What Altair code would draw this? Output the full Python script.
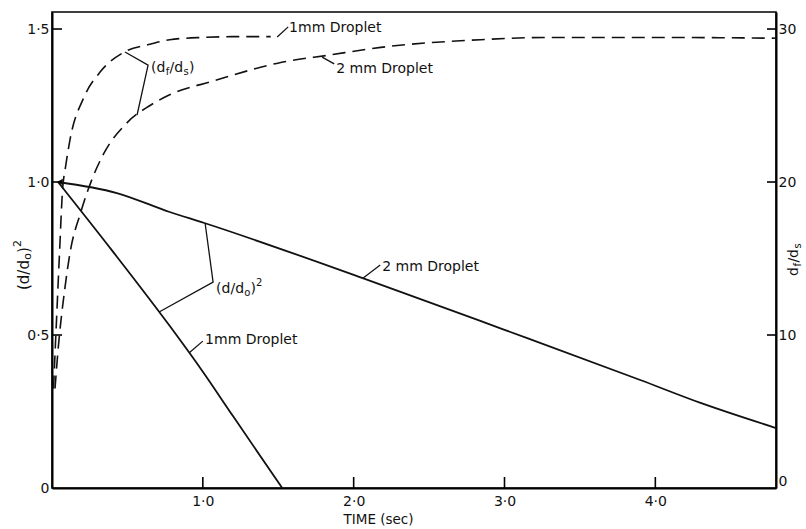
import altair as alt
import pandas as pd

# ---------------- data ----------------
T_MAX = 4.8
V_MAX = 1.5556          # left axis (d/d0)^2
R_MAX = V_MAX * 20      # right axis df/ds

# (d/d0)^2, solid lines
t_sq_1mm = [0.04, 0.40, 0.78, 1.00, 1.20, 1.526]
sq_1mm = [1.0, 0.775, 0.53, 0.38, 0.235, 0.0]
t_sq_2mm = [0.04, 0.43, 0.78, 1.01, 2.06, 3.0, 3.9, 4.3, 4.8]
sq_2mm = [1.0, 0.964, 0.902, 0.866, 0.686, 0.517, 0.353, 0.278, 0.196]

# df/ds, dashed lines
t_ratio_1mm = [0.01, 0.03, 0.05, 0.07, 0.09, 0.12, 0.21, 0.32, 0.48, 0.65, 0.78, 1.0, 1.2, 1.45]
ratio_1mm = [6.5, 11.0, 15.4, 19.5, 21.0, 22.8, 25.5, 27.2, 28.5, 29.0, 29.3, 29.45, 29.5, 29.5]
t_ratio_2mm = [0.02, 0.04, 0.086, 0.12, 0.19, 0.27, 0.34, 0.5, 0.65, 0.78, 1.07, 1.51, 1.84, 2.18, 2.84, 3.3, 4.0, 4.8]
ratio_2mm = [6.5, 9.0, 13.1, 15.4, 18.0, 20.3, 21.8, 23.9, 25.0, 25.7, 26.6, 27.8, 28.3, 28.8, 29.3, 29.45, 29.45, 29.4]

x_tick_values = [1, 2, 3, 4]
left_tick_values = [0.5, 1.0, 1.5]
right_tick_values = [10, 20, 30]

# annotation labels (left-axis units)
label_text = ["1mm Droplet", "2 mm Droplet", "2 mm Droplet", "1mm Droplet"]
label_t = [1.572, 1.884, 2.189, 1.015]
label_v = [1.503, 1.369, 0.722, 0.484]

# leader lines (left-axis units)
leader_t = [[1.493, 1.566], [1.791, 1.871], [0.484, 0.637, 0.564],
            [1.015, 1.068, 0.710], [2.063, 2.176], [0.91, 1.0]]
leader_v = [[1.474, 1.507], [1.408, 1.386], [1.425, 1.382, 1.219],
            [0.866, 0.673, 0.575], [0.686, 0.729], [0.442, 0.480]]

# compound labels with sub/superscripts: (text, dx, dy, size)
df_label_anchor = (0.657, 1.373)
df_label_parts = [("(d", 0, 0, 14), ("f", 14.6, 4, 10), ("/d", 18.5, 0, 14),
                  ("s", 32.3, 4, 10), (")", 37.8, 0, 14)]
sq_label_anchor = (1.088, 0.650)
sq_label_parts = [("(d/d", 0, 0, 14), ("o", 28.2, 4, 10), (")", 34.4, 0, 14),
                  ("2", 39.8, -6, 10)]
# axis titles built from pieces (rotated)
left_title_parts = [("(d/d", 0, 0, 15), ("o", 30.2, 4, 11), (")", 37.0, 0, 15),
                    ("2", 43.0, -6, 11)]
right_title_parts = [("d", 0, 0, 14), ("f", 9.4, 4, 10), ("/d", 13.4, 0, 14),
                     ("s", 27.4, 4, 10)]

W, H = 724, 476
FONT = "DejaVu Sans"
INK = "#111111"

# ---------------- tables ----------------
sq_df = pd.DataFrame({
    "t": t_sq_1mm + t_sq_2mm,
    "v": sq_1mm + sq_2mm,
    "series": ["1mm"] * len(t_sq_1mm) + ["2mm"] * len(t_sq_2mm),
})
ratio_df = pd.DataFrame({
    "t": t_ratio_1mm + t_ratio_2mm,
    "r": ratio_1mm + ratio_2mm,
    "series": ["1mm"] * len(t_ratio_1mm) + ["2mm"] * len(t_ratio_2mm),
})
lead_rows = []
for i, (ts, vs) in enumerate(zip(leader_t, leader_v)):
    for j, (a, b) in enumerate(zip(ts, vs)):
        lead_rows.append({"t": a, "v": b, "g": i, "o": j})
lead_df = pd.DataFrame(lead_rows)
lab_df = pd.DataFrame({"t": label_t, "v": label_v, "text": label_text})
start_df = pd.DataFrame({"t": [t_sq_1mm[0] + 0.012], "v": [sq_1mm[0]]})

xscale = alt.Scale(domain=[0, T_MAX], nice=False, zero=False)
vscale = alt.Scale(domain=[0, V_MAX], nice=False, zero=False)
rscale = alt.Scale(domain=[0, R_MAX], nice=False, zero=False)

x_axis = alt.Axis(
    values=[0, 1, 2, 3, 4], ticks=False, tickSize=0, grid=False,
    labelExpr="datum.value == 0 ? '' : replace(format(datum.value, '.1f'), '.', '·')",
    labelFont=FONT, labelFontSize=14, labelColor=INK, labelPadding=6,
    domainColor="black", domainWidth=2,
    title="TIME (sec)", titleFont=FONT, titleFontSize=13.5, titleFontWeight="normal",
    titleColor=INK, titleX=326, titleY=31, titleBaseline="middle", titleAnchor="middle",
)
v_axis = alt.Axis(
    orient="left", values=[0, 0.5, 1.0, 1.5], ticks=False, tickSize=0, grid=False,
    labelExpr="datum.value == 0 ? '0' : replace(format(datum.value, '.1f'), '.', '·')",
    labelFont=FONT, labelFontSize=14, labelColor=INK, labelPadding=3,
    domainColor="black", domainWidth=2, title=None,
)
r_axis = alt.Axis(
    orient="right", values=[0, 10, 20, 30], ticks=False, tickSize=0, grid=False,
    format="d", labelFont=FONT, labelFontSize=14, labelColor=INK, labelPadding=2,
    labelBaseline={"condition": {"test": "datum.value === 0", "value": "bottom"}, "value": "middle"},
    domainColor="black", domainWidth=2, title=None,
)

# ---------------- left (d/d0)^2 layer ----------------
sq_lines = alt.Chart(sq_df).mark_line(color=INK, strokeWidth=1.8, interpolate="monotone").encode(
    x=alt.X("t:Q", scale=xscale, axis=x_axis),
    y=alt.Y("v:Q", scale=vscale, axis=v_axis),
    detail="series:N",
)
start_mark = alt.Chart(start_df).mark_point(
    shape="triangle-left", filled=True, color=INK, size=45, opacity=1
).encode(x=alt.X("t:Q", scale=xscale), y=alt.Y("v:Q", scale=vscale))

leaders = alt.Chart(lead_df).mark_line(color=INK, strokeWidth=1.3).encode(
    x=alt.X("t:Q", scale=xscale),
    y=alt.Y("v:Q", scale=vscale),
    detail="g:N",
    order="o:Q",
)
labels = alt.Chart(lab_df).mark_text(
    align="left", baseline="middle", font=FONT, fontSize=14, color=INK
).encode(x=alt.X("t:Q", scale=xscale), y=alt.Y("v:Q", scale=vscale), text="text:N")

part_layers = []
for anchor, parts in [(df_label_anchor, df_label_parts), (sq_label_anchor, sq_label_parts)]:
    for txt, dx, dy, sz in parts:
        part_layers.append(
            alt.Chart(pd.DataFrame({"t": [anchor[0]], "v": [anchor[1]], "text": [txt]})).mark_text(
                align="left", baseline="middle", font=FONT, fontSize=sz, color=INK, dx=dx, dy=dy
            ).encode(x=alt.X("t:Q", scale=xscale), y=alt.Y("v:Q", scale=vscale), text="text:N")
        )

x_ticks = alt.Chart(pd.DataFrame({"t": x_tick_values})).mark_rule(color="black", strokeWidth=1.6).encode(
    x=alt.X("t:Q", scale=xscale), y=alt.value(H), y2=alt.value(H - 11)
)
v_ticks = alt.Chart(pd.DataFrame({"v": left_tick_values})).mark_rule(color="black", strokeWidth=1.6).encode(
    y=alt.Y("v:Q", scale=vscale), x=alt.value(0), x2=alt.value(10)
)

title_layers = []
for parts, ax, ay in [(left_title_parts, -28, 278), (right_title_parts, W + 18, 264)]:
    for txt, dx, dy, sz in parts:
        title_layers.append(
            alt.Chart(pd.DataFrame({"text": [txt]})).mark_text(
                align="left", baseline="middle", font=FONT, fontSize=sz, color=INK,
                angle=270, dx=dx, dy=dy
            ).encode(text="text:N", x=alt.value(ax), y=alt.value(ay))
        )

left = alt.layer(sq_lines, start_mark, leaders, labels, *part_layers, x_ticks, v_ticks, *title_layers)

# ---------------- right df/ds layer ----------------
ratio_lines = alt.Chart(ratio_df).mark_line(
    color=INK, strokeWidth=1.6, strokeDash=[13, 7], interpolate="monotone"
).encode(
    x=alt.X("t:Q", scale=xscale),
    y=alt.Y("r:Q", scale=rscale, axis=r_axis),
    detail="series:N",
)
r_ticks = alt.Chart(pd.DataFrame({"r": right_tick_values})).mark_rule(color="black", strokeWidth=1.6).encode(
    y=alt.Y("r:Q", scale=rscale), x=alt.value(W - 9), x2=alt.value(W)
)
right = alt.layer(ratio_lines, r_ticks)

chart = alt.layer(left, right).resolve_scale(y="independent").properties(
    width=W, height=H,
    autosize=alt.AutoSizeParams(type="none"),
    padding={"left": 52, "top": 12, "right": 30, "bottom": 41},
    background="white",
).configure_view(stroke="black", strokeWidth=1.6)

chart.save("out.html", embed_options={"renderer": "svg", "actions": False})
